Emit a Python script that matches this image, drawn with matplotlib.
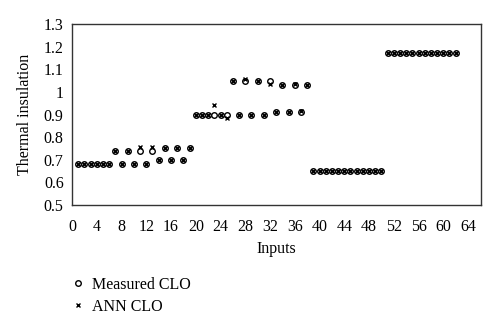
import numpy as np
import matplotlib.pyplot as plt

plt.rcParams['font.family'] = ['Liberation Serif', 'DejaVu Serif']

# measured and predicted clothing insulation per input
inputs = list(range(1, 63))
measured = [0.68, 0.68, 0.68, 0.68, 0.68, 0.68,
            0.74, 0.68, 0.74, 0.68, 0.74, 0.68, 0.74,
            0.70, 0.75, 0.70, 0.75, 0.70, 0.75,
            0.90, 0.90, 0.90, 0.90, 0.90, 0.90,
            1.05, 0.90, 1.05, 0.90, 1.05, 0.90, 1.05,
            0.91, 1.03, 0.91, 1.03, 0.91, 1.03,
            0.65, 0.65, 0.65, 0.65, 0.65, 0.65,
            0.65, 0.65, 0.65, 0.65, 0.65, 0.65,
            1.17, 1.17, 1.17, 1.17, 1.17, 1.17,
            1.17, 1.17, 1.17, 1.17, 1.17, 1.17]
ann = [0.68, 0.68, 0.68, 0.68, 0.68, 0.68,
       0.74, 0.68, 0.74, 0.68, 0.755, 0.68, 0.755,
       0.70, 0.75, 0.70, 0.75, 0.70, 0.75,
       0.90, 0.90, 0.90, 0.94, 0.90, 0.885,
       1.05, 0.90, 1.055, 0.90, 1.05, 0.90, 1.035,
       0.91, 1.03, 0.91, 1.035, 0.915, 1.03,
       0.65, 0.65, 0.65, 0.65, 0.65, 0.65,
       0.65, 0.65, 0.65, 0.65, 0.65, 0.65,
       1.17, 1.17, 1.17, 1.17, 1.17, 1.17,
       1.17, 1.17, 1.17, 1.17, 1.17, 1.17]

xticks = np.arange(0, 65, 4)
yticks = [0.5, 0.6, 0.7, 0.8, 0.9, 1.0, 1.1, 1.2, 1.3]
ylabels = ['0.5', '0.6', '0.7', '0.8', '0.9', '1', '1.1', '1.2', '1.3']

fig = plt.figure(figsize=(5, 3.23), dpi=100)
ax = fig.add_axes([0.144, 0.365, 0.818, 0.561])

ax.plot(inputs, measured, linestyle='none', marker='o', ms=4.0,
        mfc='white', mec='black', mew=1.0, label='Measured CLO')
ax.plot(inputs, ann, linestyle='none', marker='x', ms=3.0,
        color='black', mew=1.0, label='ANN CLO')

ax.set_xlim(0, 66.1)
ax.set_ylim(0.5, 1.3)
ax.set_xticks(xticks)
ax.set_yticks(yticks)
ax.set_yticklabels(ylabels)
ax.tick_params(length=0, labelsize=11.5)
ax.tick_params(axis='x', pad=10)
ax.tick_params(axis='y', pad=6)
for s in ax.spines.values():
    s.set_color('#333333')
    s.set_linewidth(1.0)

ax.set_xlabel('Inputs', fontsize=11.5, labelpad=4)
ax.set_ylabel('Thermal insulation', fontsize=11.5, labelpad=8)

fig.legend(loc='upper left', bbox_to_anchor=(0.128, 0.162), frameon=False,
           fontsize=11.5, handlelength=1.0, handletextpad=0.35,
           labelspacing=0.35, borderaxespad=0)

fig.savefig('out.png', dpi=100)
